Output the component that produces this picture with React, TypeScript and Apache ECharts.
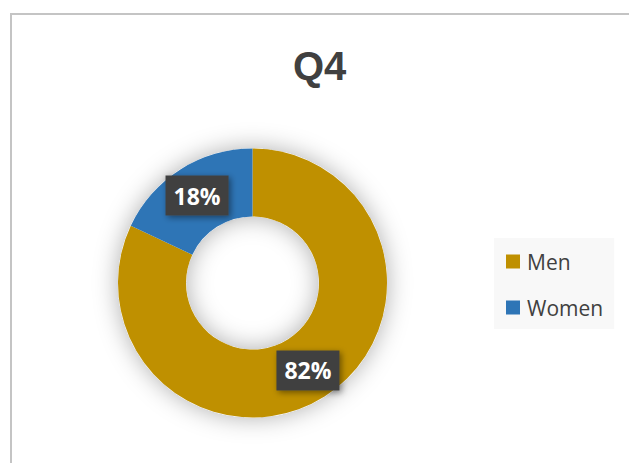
import React, { useEffect, useRef } from "react";
import * as echarts from "echarts";

const titleText = "Q4";
const categories = ["Men", "Women"];
const values = [82, 18];
const colors = ["#BF9000", "#2E75B6"];

export default function App() {
  const ref = useRef<HTMLDivElement>(null);
  useEffect(() => {
    if (!ref.current) return;
    const chart = echarts.init(ref.current, null, { renderer: "svg" });
    chart.setOption({
      animation: false,
      backgroundColor: "#ffffff",
      title: {
        text: titleText,
        left: 293,
        top: 46,
        padding: 0,
        textStyle: {
          fontFamily: "Liberation Sans",
          fontWeight: "bold",
          fontSize: 40,
          color: "#404040",
        },
      },
      graphic: [
        {
          type: "rect",
          shape: { x: 11, y: 14, width: 800, height: 800 },
          style: { fill: "none", stroke: "#c4c4c4", lineWidth: 2 },
          silent: true,
          z: 0,
        },
      ],
      legend: {
        orient: "vertical",
        left: 494,
        top: 238,
        backgroundColor: "#f8f8f8",
        padding: [13, 11, 11, 12],
        itemWidth: 14,
        itemHeight: 14,
        itemGap: 25,
        icon: "rect",
        data: categories,
        textStyle: {
          fontFamily: "Open Sans",
          fontSize: 21,
          color: "#404040",
          padding: [0, 0, 0, 2],
        },
      },
      series: [
        {
          type: "pie",
          silent: true,
          center: [252.5, 283],
          radius: [66.5, 134.5],
          label: { show: false },
          labelLine: { show: false },
          itemStyle: {
            color: "#ffffff",
            shadowBlur: 24,
            shadowColor: "rgba(0,0,0,0.32)",
          },
          data: [{ value: 1, name: "_bg" }],
          z: 1,
        },
        {
          type: "pie",
          center: [252.5, 283],
          radius: [66.5, 134.5],
          startAngle: 90,
          clockwise: true,
          z: 2,
          data: categories.map((c, i) => ({
            name: c,
            value: values[i],
            itemStyle: { color: colors[i] },
          })),
          label: {
            show: true,
            position: "inside",
            formatter: (p: any) => `${p.value}%`,
            fontFamily: "Open Sans",
            fontWeight: "bold",
            fontSize: 23,
            lineHeight: 24,
            color: "#ffffff",
            backgroundColor: "#404040",
            padding: [8, 8],
            shadowBlur: 6,
            shadowColor: "rgba(0,0,0,0.45)",
            shadowOffsetX: 2,
            shadowOffsetY: 2,
          },
          labelLine: { show: false },
          emphasis: { disabled: true },
        },
      ],
    });
    return () => chart.dispose();
  }, []);
  return (
    <div
      ref={ref}
      style={{ position: "fixed", left: 0, top: 0, width: 629, height: 463 }}
    />
  );
}
